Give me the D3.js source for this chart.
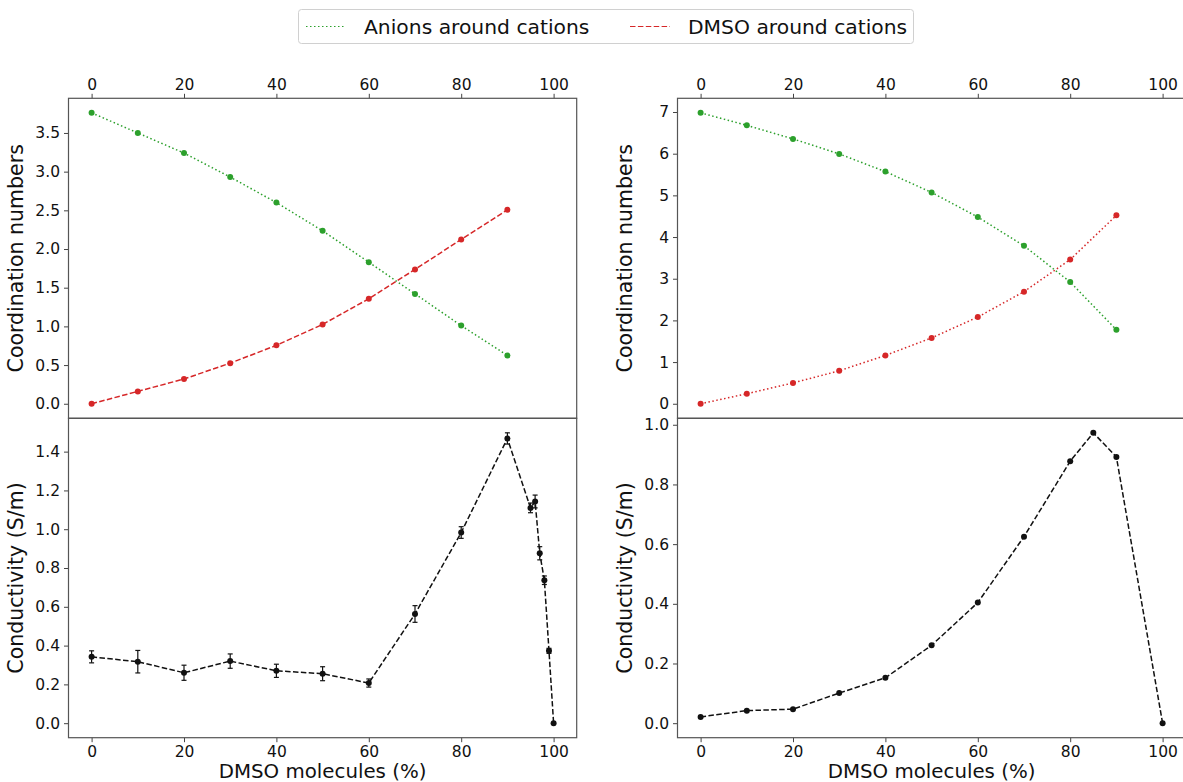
<!DOCTYPE html>
<html>
<head>
<meta charset="utf-8">
<script src="https://cdn.jsdelivr.net/npm/d3@7"></script>
<style>
  body { margin: 0; background: #fff; }
  svg { font-family: "DejaVu Sans", sans-serif; }
  .tick line { stroke: #444; }
  .domain { display: none; }
</style>
</head>
<body>
<div id="viz"></div>
<script>
'use strict';

// composition (% DMSO)
var coordX = [0, 10, 20, 30, 40, 50, 60, 70, 80, 90];
// left system
var anionsLeft = [3.76, 3.50, 3.24, 2.93, 2.60, 2.235, 1.83, 1.42, 1.01, 0.625];
var dmsoLeft = [0, 0.16, 0.32, 0.525, 0.755, 1.025, 1.357, 1.736, 2.124, 2.507];
var condXLeft = [0, 10, 20, 30, 40, 50, 60, 70, 80, 90, 95, 96, 97, 98, 99, 100];
var condLeft = [0.342, 0.317, 0.26, 0.32, 0.27, 0.255, 0.207, 0.563, 0.983, 1.468, 1.11, 1.143, 0.876, 0.737, 0.373, 0];
var condErrLeft = [0.031, 0.058, 0.039, 0.037, 0.034, 0.036, 0.021, 0.043, 0.03, 0.029, 0.025, 0.033, 0.034, 0.022, 0.013, 0];
// right system
var anionsRight = [6.98, 6.68, 6.355, 5.995, 5.57, 5.07, 4.48, 3.79, 2.92, 1.775];
var dmsoRight = [0, 0.24, 0.50, 0.79, 1.16, 1.58, 2.08, 2.69, 3.46, 4.52];
var condXRight = [0, 10, 20, 30, 40, 50, 60, 70, 80, 85, 90, 100];
var condRight = [0.021, 0.042, 0.047, 0.101, 0.152, 0.261, 0.404, 0.625, 0.878, 0.973, 0.892, 0];

var xTicks = [0, 20, 40, 60, 80, 100];
var legendLabels = ['Anions around cations', 'DMSO around cations'];

var green = '#2ca02c', red = '#d62728';
var dashed = '5.5,2.4', dotted = '1.5,2.5';

var svg = d3.select('#viz').append('svg')
    .attr('width', 1183)
    .attr('height', 782);

var panelW = 508.2,
    topY = 98.3,
    midY = 418.3,
    botY = 737.7;

function mean(a, b) { return (a + b) / 2; }

function padded(lo, hi) {
    var m = (hi - lo) * 0.05;
    return [lo - m, hi + m];
}

function styleTicks(axisG) {
    axisG.selectAll('text')
        .style('font-size', '15.5px')
        .style('font-family', '"DejaVu Sans", sans-serif')
        .style('fill', '#111');
}

function drawLine(g, x, y, xs, ys, color, dash) {
    var pts = xs.map((d, i) => [d, ys[i]]);
    g.append('path')
        .datum(pts)
        .attr('fill', 'none')
        .attr('stroke', color)
        .attr('stroke-width', 1.5)
        .attr('stroke-dasharray', dash)
        .attr('d', d3.line().x(d => x(d[0])).y(d => y(d[1])));
    g.selectAll(null)
        .data(pts)
        .enter().append('circle')
        .attr('cx', d => x(d[0]))
        .attr('cy', d => y(d[1]))
        .attr('r', 3)
        .attr('fill', color);
}

function frame(g, left, top, bottom) {
    g.append('rect')
        .attr('x', left)
        .attr('y', top)
        .attr('width', panelW)
        .attr('height', bottom - top)
        .attr('fill', 'none')
        .attr('stroke', '#555')
        .attr('stroke-width', 1.2);
}

function yLabel(g, cx, cy, text) {
    g.append('text')
        .attr('transform', 'translate(' + cx + ',' + cy + ') rotate(-90)')
        .attr('text-anchor', 'middle')
        .attr('font-size', 20.5)
        .attr('fill', '#111')
        .text(text);
}

function drawColumn(opt) {
    var g = svg.append('g');
    var x = d3.scaleLinear().domain([-5, 105]).range([opt.left, opt.left + panelW]);

    // top: coordination numbers
    var yTop = d3.scaleLinear()
        .domain(padded(0, d3.max(opt.anions.concat(opt.dmso))))
        .range([midY, topY]);
    g.append('g')
        .attr('transform', 'translate(0,' + topY + ')')
        .call(d3.axisTop(x).tickValues(xTicks).tickSize(4.5).tickPadding(4))
        .call(styleTicks);
    g.append('g')
        .attr('transform', 'translate(' + opt.left + ',0)')
        .call(d3.axisLeft(yTop).tickValues(opt.topTicks).tickSize(4.5).tickPadding(4)
            .tickFormat(opt.topFormat))
        .call(styleTicks);
    drawLine(g, x, yTop, coordX, opt.anions, green, dotted);
    drawLine(g, x, yTop, coordX, opt.dmso, red, opt.dmsoDash);
    frame(g, opt.left, topY, midY);
    yLabel(g, opt.left - 46, mean(topY, midY), 'Coordination numbers');

    // bottom: conductivity
    var errs = opt.condErr || opt.cond.map(() => 0);
    var hi = d3.max(opt.cond.map((d, i) => d + errs[i]));
    var yBot = d3.scaleLinear()
        .domain(padded(0, hi))
        .range([botY, midY]);
    g.append('g')
        .attr('transform', 'translate(0,' + botY + ')')
        .call(d3.axisBottom(x).tickValues(xTicks).tickSize(4.5).tickPadding(3.5))
        .call(styleTicks);
    g.append('g')
        .attr('transform', 'translate(' + opt.left + ',0)')
        .call(d3.axisLeft(yBot).tickValues(opt.botTicks).tickSize(4.5).tickPadding(4)
            .tickFormat(d3.format('.1f')))
        .call(styleTicks);

    if (opt.condErr) {
        var eb = g.append('g').attr('stroke', '#111').attr('stroke-width', 1.2);
        opt.condX.forEach(function(d, i) {
            if (!errs[i]) {
                return;
            }
            var cx = x(d), y1 = yBot(opt.cond[i] - errs[i]), y2 = yBot(opt.cond[i] + errs[i]);
            eb.append('line').attr('x1', cx).attr('x2', cx).attr('y1', y1).attr('y2', y2);
            eb.append('line').attr('x1', cx - 2.5).attr('x2', cx + 2.5).attr('y1', y1).attr('y2', y1);
            eb.append('line').attr('x1', cx - 2.5).attr('x2', cx + 2.5).attr('y1', y2).attr('y2', y2);
        });
    }
    drawLine(g, x, yBot, opt.condX, opt.cond, '#111', dashed);
    frame(g, opt.left, midY, botY);
    yLabel(g, opt.left - 46, mean(midY, botY), 'Conductivity (S/m)');

    g.append('text')
        .attr('x', x(50))
        .attr('y', 777.5)
        .attr('text-anchor', 'middle')
        .attr('font-size', 19.8)
        .attr('fill', '#111')
        .text('DMSO molecules (%)');
}

drawColumn({
    left: 68.5,
    anions: anionsLeft,
    dmso: dmsoLeft,
    dmsoDash: dashed,
    topTicks: [0, 0.5, 1, 1.5, 2, 2.5, 3, 3.5],
    topFormat: d3.format('.1f'),
    condX: condXLeft,
    cond: condLeft,
    condErr: condErrLeft,
    botTicks: [0, 0.2, 0.4, 0.6, 0.8, 1.0, 1.2, 1.4]
});

drawColumn({
    left: 677.5,
    anions: anionsRight,
    dmso: dmsoRight,
    dmsoDash: dotted,
    topTicks: [0, 1, 2, 3, 4, 5, 6, 7],
    topFormat: d3.format('d'),
    condX: condXRight,
    cond: condRight,
    condErr: null,
    botTicks: [0, 0.2, 0.4, 0.6, 0.8, 1.0]
});

// legend
var legend = svg.append('g');
legend.append('rect')
    .attr('x', 298.5)
    .attr('y', 9.5)
    .attr('width', 615)
    .attr('height', 34)
    .attr('rx', 3)
    .attr('fill', '#fff')
    .attr('stroke', '#d0d0d0');
var legItems = [
    {label: legendLabels[0], color: green, dash: dotted, x: 306},
    {label: legendLabels[1], color: red, dash: dashed, x: 630}
];
legItems.forEach(function(d) {
    legend.append('line')
        .attr('x1', d.x).attr('x2', d.x + 40)
        .attr('y1', 26.5).attr('y2', 26.5)
        .attr('stroke', d.color)
        .attr('stroke-width', 1.2)
        .attr('stroke-dasharray', d.dash);
    legend.append('text')
        .attr('x', d.x + 58)
        .attr('y', 33.5)
        .attr('font-size', 20.3)
        .attr('fill', '#111')
        .text(d.label);
});
</script>
</body>
</html>
